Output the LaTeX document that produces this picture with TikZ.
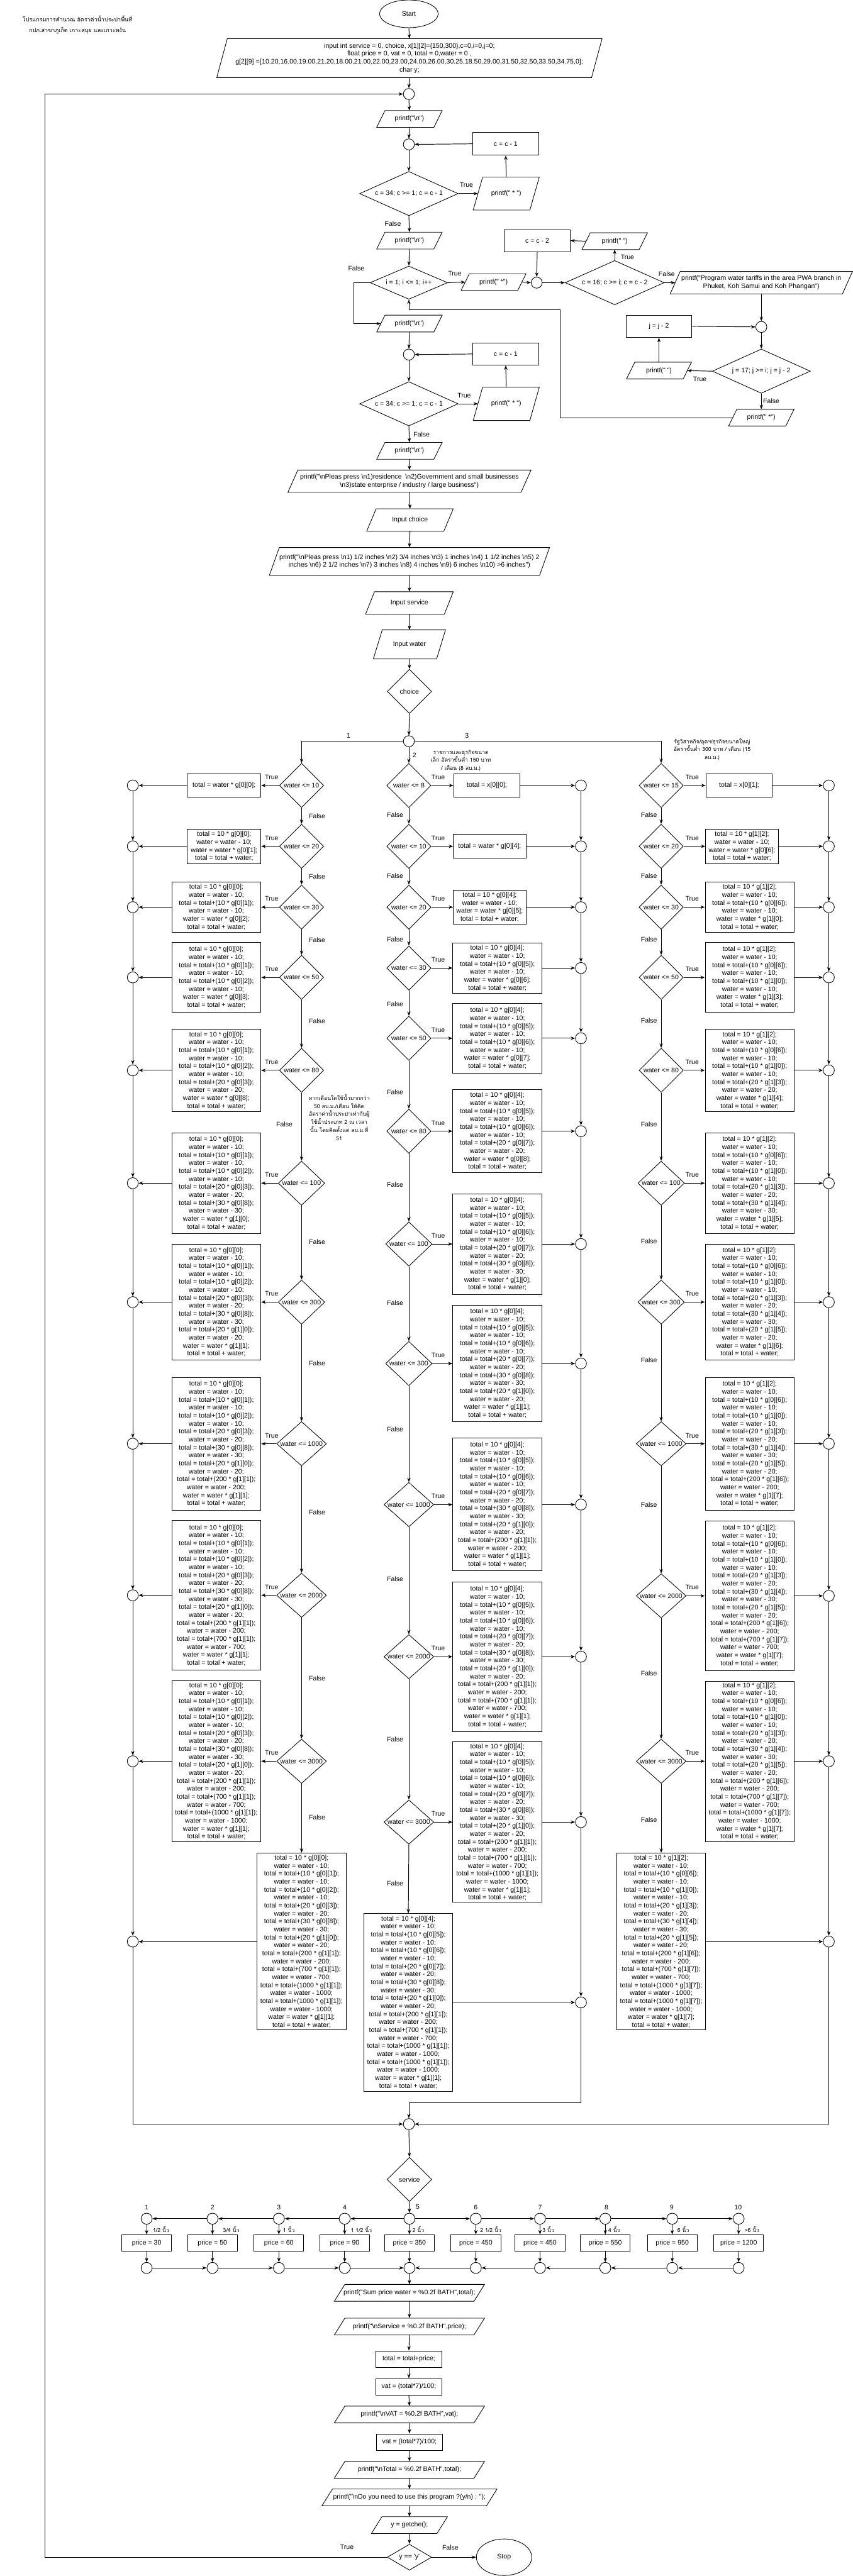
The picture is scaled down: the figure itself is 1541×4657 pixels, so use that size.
\documentclass[tikz,border=0pt]{standalone}
\usepackage{fontspec}
\setmainfont{Liberation Sans}[Ligatures=TeXOff]
\newfontfamily\thaifont[Script=Thai,Scale=0.82]{Loma}
\usetikzlibrary{shapes.geometric,arrows.meta}
\newcommand\bsn{\textbackslash n}
\newcommand\wst[1]{total = 10 * #1;\\water = water - 10;}
\newcommand\wsp[2]{total = total+(#1 * #2);\\water = water - #1;}
\newcommand\wen[1]{water = water * #1;\\total = total + water;}
\def\wA{\wst{g[0][0]}}
\def\wB{\wA\\\wsp{10}{g[0][1]}}
\def\wC{\wB\\\wsp{10}{g[0][2]}}
\def\wD{\wC\\\wsp{20}{g[0][3]}}
\def\wE{\wD\\\wsp{30}{g[0][8]}}
\def\wF{\wE\\\wsp{20}{g[1][0]}}
\def\wG{\wF\\\wsp{200}{g[1][1]}}
\def\wH{\wG\\\wsp{700}{g[1][1]}}
\def\wI{\wH\\\wsp{1000}{g[1][1]}}
\def\wJ{\wI\\\wsp{1000}{g[1][1]}}
\def\vA{\wst{g[0][4]}}
\def\vB{\vA\\\wsp{10}{g[0][5]}}
\def\vC{\vB\\\wsp{10}{g[0][6]}}
\def\vD{\vC\\\wsp{20}{g[0][7]}}
\def\vE{\vD\\\wsp{30}{g[0][8]}}
\def\vF{\vE\\\wsp{20}{g[1][0]}}
\def\vG{\vF\\\wsp{200}{g[1][1]}}
\def\vH{\vG\\\wsp{700}{g[1][1]}}
\def\vI{\vH\\\wsp{1000}{g[1][1]}}
\def\vJ{\vI\\\wsp{1000}{g[1][1]}}
\def\uA{\wst{g[1][2]}}
\def\uB{\uA\\\wsp{10}{g[0][6]}}
\def\uC{\uB\\\wsp{10}{g[1][0]}}
\def\uD{\uC\\\wsp{20}{g[1][3]}}
\def\uE{\uD\\\wsp{30}{g[1][4]}}
\def\uF{\uE\\\wsp{20}{g[1][5]}}
\def\uG{\uF\\\wsp{200}{g[1][6]}}
\def\uH{\uG\\\wsp{700}{g[1][7]}}
\def\uI{\uH\\\wsp{1000}{g[1][7]}}
\def\uJ{\uI\\\wsp{1000}{g[1][7]}}
\tikzset{
 every node/.style={font=\fontsize{12}{14.4}\selectfont, inner sep=0pt},
 shp/.style={draw, line width=1pt},
 box/.style={shp, rectangle, align=center},
 conn/.style={draw, line width=1pt, circle, minimum size=20, inner sep=0pt},
 dia/.style={draw, line width=1pt, diamond, inner sep=0pt},
 pn/.style={rectangle, align=center},
 arr/.style={line width=1.1pt, -{Stealth[length=8pt,width=6pt]}},
 th/.style={font=\thaifont\fontsize{12}{14.5}\selectfont, align=center},
}
\newcommand\mypg[7]{%
 \node[pn, minimum width=#4, minimum height=#5] (#1) at (#2,#3) {#7};
 \draw[shp] ([xshift=#6]#1.north west) -- (#1.north east) -- ([xshift=-#6]#1.south east) -- (#1.south west) -- cycle;
}
\newcommand\mydia[6]{%
 \node[dia, minimum width=#4, minimum height=#5] (#1) at (#2,#3) {};
 \node (#1t) at (#2,#3) {#6};
}
\newcommand\rowA[7]{%
 \node[dia, minimum width=#3, minimum height=80] (a#1) at (545,#2) {};
 \node (a#1t) at (545,#2) {water <= #1};
 \node[box, minimum width=#5, minimum height=#6] (ab#1) at (#4,#2) {#7};
 \node[conn] (ac#1) at (240,#2) {};
 \draw[arr] (a#1.west) -- (ab#1.east);
 \draw[arr] (ab#1.west) -- (ac#1.east);
 \node (at#1) at (491,#2-15) {True};
}
\newcommand\rowB[7]{%
 \node[dia, minimum width=#3, minimum height=80] (b#1) at (739,#2) {};
 \node (b#1t) at (739,#2) {water <= #1};
 \node[box, minimum width=#5, minimum height=#6] (bb#1) at (#4,#2) {#7};
 \node[conn] (bc#1) at (1050,#2) {};
 \draw[arr] (b#1.east) -- (bb#1.west);
 \draw[arr] (bb#1.east) -- (bc#1.west);
 \node (bt#1) at (792,#2-15) {True};
}
\newcommand\rowC[7]{%
 \node[dia, minimum width=#3, minimum height=80] (k#1) at (1195,#2) {};
 \node (k#1t) at (1195,#2) {water <= #1};
 \node[box, minimum width=#5, minimum height=#6] (kb#1) at (#4,#2) {#7};
 \node[conn] (kc#1) at (1498,#2) {};
 \draw[arr] (k#1.east) -- (kb#1.west);
 \draw[arr] (kb#1.east) -- (kc#1.west);
 \node (kt#1) at (1251,#2-15) {True};
}
\newcommand\svcrow[6]{%
 \node[conn] (sA#1) at (#2,4011) {};
 \node (sn#1) at (#4,3990) {#1};
 \node[box, minimum width=90, minimum height=30] (pr#1) at (#2,4055) {price = #3};
 \node[conn] (sB#1) at (#2,4100) {};
 \draw[arr] (sA#1.south) -- (pr#1.north);
 \draw[arr] (pr#1.south) -- (sB#1.north);
 \node[th] (sl#1) at (#6,4030) {#5};
}
\begin{document}
\begin{tikzpicture}[x=1pt,y=-1pt]
\fill[white] (0,0) rectangle (1541,4657);
\useasboundingbox (0,0) rectangle (1541,4657);
% title
\node[th, font=\thaifont\fontsize{12.5}{20}\selectfont] (title) at (140,45) {โปรแกรมการคำนวณ อัตราค่าน้ำประปาพื้นที่\\กปภ.สาขาภูเก็ต เกาะสมุย และเกาะพงัน};
% top
\node[shp, ellipse, minimum width=106, minimum height=50] (start) at (739,25) {Start};
\mypg{init}{740}{105}{696}{70}{19}{input int service = 0, choice, x[1][2]=\{150,300\},c=0,i=0,j=0;\\float price = 0, vat = 0, total = 0,water = 0 ,\\g[2][9] =\{10.20,16.00,19.00,21.20,18.00,21.00,22.00,23.00,24.00,26.00,30.25,18.50,29.00,31.50,32.50,33.50,34.75,0\};\\char y;}
\node[conn] (lp) at (739,170) {};
\mypg{pn1}{740}{215}{118}{30}{15}{printf("\bsn")}
\node[conn] (tc1) at (739,261) {};
\node[box, minimum width=119, minimum height=41] (cm1) at (914,260) {c = c - 1};
\mydia{d1}{739}{350}{178}{80}{c = 34; c >= 1; c = c - 1}
\mypg{ps1}{915}{350}{119}{59}{17}{printf(" * ")}
\node (lt1) at (843,334) {True};
\node (lf1) at (710,405) {False};
\mypg{pn2}{740}{435}{118}{30}{15}{printf("\bsn")}
\node[box, minimum width=119, minimum height=40] (cm2) at (971,435) {c = c - 2};
\mypg{psp}{1111}{436}{118}{30}{15}{printf(" ")}
\mydia{di}{739}{511}{140}{60}{i = 1; i <= 1; i++}
\mypg{ps2}{892}{510}{117}{30}{15}{printf(" *")}
\node[conn] (tc3) at (970,511) {};
\mydia{d2}{1111}{511}{179}{80}{c = 16; c >= i; c = c - 2}
\mypg{prog}{1376}{511}{329}{40}{18}{printf("Program water tariffs in the area PWA branch in\\Phuket, Koh Samui and Koh Phangan")}
\node (lf2) at (644,485) {False};
\node (lt2) at (822,495) {True};
\node (lt3) at (1134,465) {True};
\node (lf3) at (1205,495) {False};
\node[conn] (tc4) at (1376,591) {};
\node[box, minimum width=119, minimum height=40] (jm) at (1191,590) {j = j - 2};
\mydia{dj}{1376}{671}{177}{80}{j = 17; j >= i; j = j - 2}
\mypg{psp2}{1191}{670}{117}{30}{15}{printf(" ")}
\mypg{ps3}{1376}{755}{118}{30}{15}{printf(" *")}
\node (lt4) at (1265,685) {True};
\node (lf4) at (1394,725) {False};
\mypg{pn3}{740}{585}{118}{30}{15}{printf("\bsn")}
\node[conn] (tc5) at (739,641) {};
\node[box, minimum width=119, minimum height=40] (cm3) at (914,640) {c = c - 1};
\mydia{d3}{739}{730}{178}{80}{c = 34; c >= 1; c = c - 1}
\mypg{ps4}{915}{730}{119}{60}{17}{printf(" * ")}
\node (lt5) at (839,715) {True};
\node (lf5) at (762,785) {False};
\mypg{pn4}{740}{815}{118}{30}{15}{printf("\bsn")}
\mypg{menu1}{740}{870}{439}{40}{18}{printf("\bsn Pleas press \bsn 1)residence \ \bsn 2)Government and small businesses\\\bsn 3)state enterprise / industry / large business")}
\mypg{inch}{741}{940}{156}{40}{17}{Input choice}
\mypg{menu2}{740}{1015}{506}{50}{18}{printf("\bsn Pleas press \bsn 1) 1/2 inches \bsn 2) 3/4 inches \bsn 3) 1 inches \bsn 4) 1 1/2 inches \bsn 5) 2\\inches \bsn 6) 2 1/2 inches \bsn 7) 3 inches \bsn 8) 4 inches \bsn 9) 6 inches \bsn 10) >6 inches")}
\mypg{insvc}{740}{1090}{158}{40}{16}{Input service}
\mypg{inw}{740}{1165}{130}{52}{16}{Input water}
\mydia{chc}{740}{1250}{80}{80}{choice}
\node[conn] (hub) at (739,1340) {};
\coordinate (bj) at (1012,560);
% top connectors
\draw[arr] (start.south) -- (init.north);
\draw[arr] (init.south) -- (lp.north);
\draw[arr] (lp.south) -- (pn1.north);
\draw[arr] (pn1.south) -- (tc1.north);
\draw[arr] (tc1.south) -- (d1.north);
\draw[arr] (cm1.west) -- (tc1.east);
\draw[arr] (d1.east) -- ([xshift=8.5]ps1.west);
\draw[arr] (ps1.north) -- (cm1.south);
\draw[arr] (d1.south) -- (pn2.north);
\draw[arr] (pn2.south) -- (di.north);
\draw[arr] (di.east) -- ([xshift=7.5]ps2.west);
\draw[arr] ([xshift=-7.5]ps2.east) -- (tc3.west);
\draw[arr] (cm2.south) -- (tc3.north);
\draw[arr] ([xshift=7.5]psp.west) -- (cm2.east);
\draw[arr] (tc3.east) -- (d2.west);
\draw[arr] (d2.north) -- (psp.south);
\draw[arr] (d2.east) -- ([xshift=9]prog.west);
\draw[arr] (prog.south) -- (tc4.north);
\draw[arr] (jm.east) -- (tc4.west);
\draw[arr] (tc4.south) -- (dj.north);
\draw[arr] (dj.west) -- ([xshift=-7.5]psp2.east);
\draw[arr] (psp2.north) -- (jm.south);
\draw[arr] (dj.south) -- (ps3.north);
\draw[arr] ([xshift=7.5]ps3.west) -| (bj) -| (di.south);
\draw[arr] (di.west) -- ++(-29,0) |- ([xshift=7.5]pn3.west);
\draw[arr] (pn3.south) -- (tc5.north);
\draw[arr] (tc5.south) -- (d3.north);
\draw[arr] (cm3.west) -- (tc5.east);
\draw[arr] (d3.east) -- ([xshift=8.5]ps4.west);
\draw[arr] (ps4.north) -- (cm3.south);
\draw[arr] (d3.south) -- (pn4.north);
\draw[arr] (pn4.south) -- (menu1.north);
\draw[arr] (menu1.south) -- (inch.north);
\draw[arr] (inch.south) -- (menu2.north);
\draw[arr] (menu2.south) -- (insvc.north);
\draw[arr] (insvc.south) -- (inw.north);
\draw[arr] (inw.south) -- (chc.north);
\draw[arr] (chc.south) -- (hub.north);
% annotations
\node (h1) at (630,1330) {1};
\node (h2) at (749,1365) {2};
\node (h3) at (844,1330) {3};
\node[th] (an2) at (833,1375) {ราชการและธุรกิจขนาด\\เล็ก อัตราขั้นต่ำ 150 บาท\\/ เดือน (8 ลบ.ม.)};
\node[th] (an3) at (1287,1355) {รัฐวิสาหกิจ/อุตฯ/ธุรกิจขนาดใหญ่\\อัตราขั้นต่ำ 300 บาท / เดือน (15\\ลบ.ม.)};
\node[th] (an1) at (613,2020) {หากเดือนใดใช้น้ำมากกว่า\\50 ลบ.ม./เดือน ให้คิด\\อัตราค่าน้ำประปาเท่ากับผู้\\ใช้น้ำประเภท 2 ณ เวลา\\นั้น โดยคิดตั้งแต่ ลบ.ม.ที่\\51};
% column 1
\rowA{10}{1420}{80}{405}{133}{42}{total = water * g[0][0];}
\rowA{20}{1530}{80}{405}{133}{62}{\wA\\\wen{g[0][1]}}
\rowA{30}{1640}{80}{391}{161}{91}{\wB\\\wen{g[0][2]}}
\rowA{50}{1767}{80}{391}{161}{126}{\wC\\\wen{g[0][3]}}
\rowA{80}{1935}{80}{391}{161}{150}{\wD\\\wen{g[0][8]}}
\rowA{100}{2139}{84}{391}{161}{181}{\wE\\\wen{g[1][0]}}
\rowA{300}{2354}{84}{391}{161}{210}{\wF\\\wen{g[1][1]}}
\rowA{1000}{2610}{90}{391}{161}{240}{\wG\\\wen{g[1][1]}}
\rowA{2000}{2884}{90}{391}{161}{270}{\wH\\\wen{g[1][1]}}
\rowA{3000}{3184}{90}{391}{161}{291}{\wI\\\wen{g[1][1]}}
\node[box, minimum width=161, minimum height=320] (abf) at (545,3510) {\wJ\\\wen{g[1][1]}};
\node[conn] (acf) at (240,3510) {};
\foreach \p/\q in {10/20,20/30,30/50,50/80,80/100,100/300,300/1000,1000/2000,2000/3000}{
 \draw[arr] (a\p.south) -- (a\q.north);
 \draw[arr] (ac\p.south) -- (ac\q.north);}
\draw[arr] (a3000.south) -- (abf.north);
\draw[arr] (ac3000.south) -- (acf.north);
\draw[arr] (abf.west) -- (acf.east);
\foreach \q/\yy in {10/1475,20/1585,30/1699,50/1846,100/2245,300/2465,1000/2734,2000/3034,3000/3285}{
 \node (af\q) at (573,\yy) {False};}
\node (af80) at (514,2033) {False};
% column 2
\rowB{8}{1420}{80}{880}{120}{41}{total = x[0][0];}
\rowB{10}{1530}{80}{885}{131}{43}{total = water * g[0][4];}
\rowB{20}{1640}{80}{885}{131}{62}{\vA\\\wen{g[0][5]}}
\rowB{30}{1750}{80}{899}{161}{91}{\vB\\\wen{g[0][6]}}
\rowB{50}{1877}{80}{899}{161}{126}{\vC\\\wen{g[0][7]}}
\rowB{80}{2045}{80}{899}{161}{150}{\vD\\\wen{g[0][8]}}
\rowB{100}{2249}{84}{899}{161}{182}{\vE\\\wen{g[1][0]}}
\rowB{300}{2465}{84}{899}{161}{210}{\vF\\\wen{g[1][1]}}
\rowB{1000}{2720}{90}{899}{161}{240}{\vG\\\wen{g[1][1]}}
\rowB{2000}{2995}{90}{899}{161}{270}{\vH\\\wen{g[1][1]}}
\rowB{3000}{3294}{90}{899}{161}{290}{\vI\\\wen{g[1][1]}}
\node[box, minimum width=161, minimum height=321] (bbf) at (738,3620) {\vJ\\\wen{g[1][1]}};
\node[conn] (bcf) at (1050,3620) {};
\foreach \p/\q in {8/10,10/20,20/30,30/50,50/80,80/100,100/300,300/1000,1000/2000,2000/3000}{
 \draw[arr] (b\p.south) -- (b\q.north);
 \draw[arr] (bc\p.south) -- (bc\q.north);}
\draw[arr] (b3000.south) -- (bbf.north);
\draw[arr] (bc3000.south) -- (bcf.north);
\draw[arr] (bbf.east) -- (bcf.west);
\foreach \q/\yy in {8/1473,10/1583,20/1698,30/1815,50/1975,80/2142,100/2355,300/2584,1000/2854,2000/3145,3000/3405}{
 \node (bf\q) at (714,\yy) {False};}
% column 3
\rowC{15}{1420}{80}{1336}{120}{41}{total = x[0][1];}
\rowC{20}{1530}{80}{1341}{131}{62}{\uA\\\wen{g[0][6]}}
\rowC{30}{1640}{80}{1355}{161}{91}{\uB\\\wen{g[1][0]}}
\rowC{50}{1767}{80}{1355}{161}{126}{\uC\\\wen{g[1][3]}}
\rowC{80}{1935}{80}{1355}{161}{150}{\uD\\\wen{g[1][4]}}
\rowC{100}{2139}{84}{1355}{161}{181}{\uE\\\wen{g[1][5]}}
\rowC{300}{2354}{84}{1355}{161}{210}{\uF\\\wen{g[1][6]}}
\rowC{1000}{2610}{90}{1355}{161}{240}{\uG\\\wen{g[1][7]}}
\rowC{2000}{2885}{90}{1355}{161}{270}{\uH\\\wen{g[1][7]}}
\rowC{3000}{3184}{90}{1355}{161}{290}{\uI\\\wen{g[1][7]}}
\node[box, minimum width=161, minimum height=320] (kbf) at (1195,3510) {\uJ\\\wen{g[1][7]}};
\node[conn] (kcf) at (1498,3510) {};
\foreach \p/\q in {15/20,20/30,30/50,50/80,80/100,100/300,300/1000,1000/2000,2000/3000}{
 \draw[arr] (k\p.south) -- (k\q.north);
 \draw[arr] (kc\p.south) -- (kc\q.north);}
\draw[arr] (k3000.south) -- (kbf.north);
\draw[arr] (kc3000.south) -- (kcf.north);
\draw[arr] (kbf.east) -- (kcf.west);
\foreach \q/\yy in {15/1473,20/1583,30/1698,50/1845,80/2033,100/2244,300/2459,1000/2720,2000/3025,3000/3290}{
 \node (kf\q) at (1173,\yy) {False};}
% hub branches
\draw[arr] (hub.west) -| (a10.north);
\draw[arr] (hub.south) -- (b8.north);
\draw[arr] (hub.east) -| (k15.north);
% merge
\node[conn] (mg) at (739,3840) {};
\coordinate (mgb) at (1050,3801);
\draw[arr] (acf.south) |- (mg.west);
\draw[arr] (kcf.south) |- (mg.east);
\draw[arr] (bcf.south) -- (mgb) -| (mg.north);
\mydia{svc}{740}{3940}{81}{80}{service}
\draw[arr] (mg.south) -- (svc.north);
% service rows
\svcrow{1}{265}{30}{265}{1/2 นิ้ว}{291}
\svcrow{2}{384}{50}{384}{3/4 นิ้ว}{418}
\svcrow{3}{504}{60}{504}{1 นิ้ว}{522}
\svcrow{4}{623}{90}{623}{1 1/2 นิ้ว}{653}
\svcrow{5}{740}{350}{755}{2 นิ้ว}{756}
\svcrow{6}{860}{450}{860}{2 1/2 นิ้ว}{887}
\svcrow{7}{976}{450}{976}{3 นิ้ว}{991}
\svcrow{8}{1094}{550}{1096}{4 นิ้ว}{1110}
\svcrow{9}{1215}{950}{1214}{6 นิ้ว}{1235}
\svcrow{10}{1335}{1200}{1334}{>6 นิ้ว}{1359}
\draw[arr] (svc.south) -- (sA5.north);
\foreach \p/\q in {5/4,4/3,3/2,2/1}{\draw[arr] (sA\p.west) -- (sA\q.east);}
\foreach \p/\q in {5/6,6/7,7/8,8/9,9/10}{\draw[arr] (sA\p.east) -- (sA\q.west);}
\foreach \p/\q in {1/2,2/3,3/4,4/5}{\draw[arr] (sB\p.east) -- (sB\q.west);}
\foreach \p/\q in {10/9,9/8,8/7,7/6,6/5}{\draw[arr] (sB\p.west) -- (sB\q.east);}
% tail
\mypg{sum}{740}{4145}{271}{30}{19}{printf("Sum price water = \%0.2f BATH",total);}
\mypg{svcp}{740}{4206}{271}{30}{19}{printf("\bsn Service = \%0.2f BATH",price);}
\node[box, minimum width=120, minimum height=30] (tot) at (739,4265) {total = total+price;};
\node[box, minimum width=120, minimum height=30] (vat1) at (739,4315) {vat = (total*7)/100;};
\mypg{vatp}{740}{4365}{271}{30}{19}{printf("\bsn VAT = \%0.2f BATH",vat);}
\node[box, minimum width=120, minimum height=30] (vat2) at (740,4415) {vat = (total*7)/100;};
\mypg{totp}{740}{4465}{271}{30}{19}{printf("\bsn Total = \%0.2f BATH",total);}
\mypg{ask}{740}{4515}{316}{30}{19}{printf("\bsn Do you need to use this program ?(y/n) : ");}
\mypg{gety}{740}{4565}{137}{30}{19}{y = getche();}
\mydia{dy}{740}{4623}{80}{47}{y == 'y'}
\node[shp, ellipse, minimum width=100, minimum height=66] (stop) at (911,4623) {Stop};
\node (lt6) at (627,4605) {True};
\node (lf6) at (814,4605) {False};
\draw[arr] (sB5.south) -- (sum.north);
\draw[arr] (sum.south) -- (svcp.north);
\draw[arr] (svcp.south) -- (tot.north);
\draw[arr] (tot.south) -- (vat1.north);
\draw[arr] (vat1.south) -- (vatp.north);
\draw[arr] (vatp.south) -- (vat2.north);
\draw[arr] (vat2.south) -- (totp.north);
\draw[arr] (totp.south) -- (ask.north);
\draw[arr] (ask.south) -- (gety.north);
\draw[arr] (gety.south) -- (dy.north);
\draw[arr] (dy.east) -- (stop.west);
\coordinate (lpa) at (81,4623);
\coordinate (lpb) at (81,170);
\draw[arr] (dy.west) -- (lpa) -- (lpb) -- (lp.west);
\end{tikzpicture}
\end{document}
